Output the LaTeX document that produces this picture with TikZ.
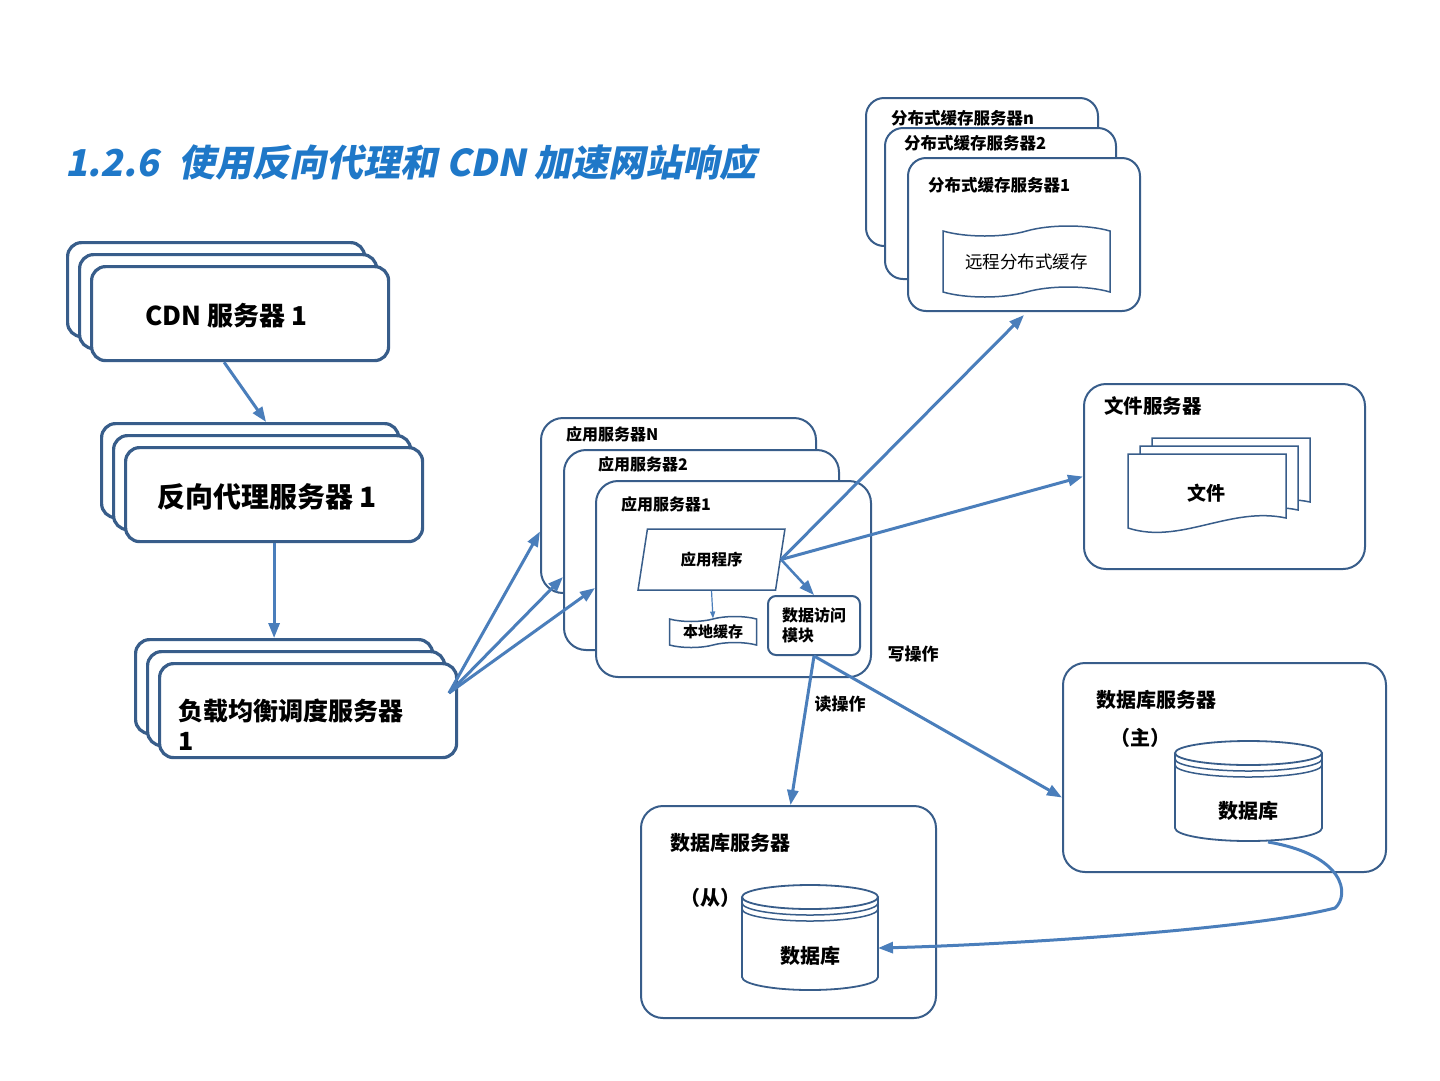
\documentclass[tikz,border=0pt]{standalone}
\usepackage{fontspec}
\setmainfont{Noto Sans CJK SC}
\newfontfamily\titlefont{Noto Sans CJK SC}[FakeSlant=0.2]
\usetikzlibrary{arrows.meta,shapes.geometric,shapes.symbols}
\definecolor{boxblue}{RGB}{56,93,138}
\definecolor{arrowblue}{RGB}{74,126,187}
\definecolor{titleblue}{RGB}{31,120,200}

\begin{document}
\begin{tikzpicture}[x=1pt,y=-1pt,
  stack/.style={draw=boxblue,line width=3.2pt,rounded corners=14pt,fill=white,anchor=north west,minimum width=297pt,minimum height=94pt},
  box/.style={draw=boxblue,line width=2pt,rounded corners=22pt,fill=white,anchor=north west},
  link/.style={draw=arrowblue,line width=3pt,-{Triangle[length=15pt,width=11pt]}},
  big/.style={font=\bfseries\fontsize{#1}{30}\selectfont,anchor=west,inner sep=0pt},
  lbl/.style={font=\bfseries\fontsize{#1}{20}\selectfont,anchor=west,inner sep=0pt}]
\path[fill=white] (0,0) rectangle (1440,1080);
\useasboundingbox (0,0) rectangle (1440,1080);
\node[anchor=west,inner sep=0pt,text=titleblue,font=\titlefont\bfseries\fontsize{37}{40}\selectfont] (title) at (65,162) {1.2.6\hspace{20pt}使用反向代理和 CDN 加速网站响应};

\foreach \k in {2,1,0} {
  \node[stack] (cdn\k) at ({90-12*\k},{265-12*\k}) {};
  \node[stack] (rp\k) at ({124-12*\k},{446-12*\k}) {};
  \node[stack] (lb\k) at ({158-12*\k},{662-12*\k}) {};
}
\node[big=26] (cdntxt) at (145,316) {CDN 服务器 1};
\node[big=28] (rptxt) at (157,497) {反向代理服务器 1};
\node[big=25,align=left] (lbtxt) at (178,725) {负载均衡调度服务器\\1};
\draw[link] ([xshift=-16pt]cdn0.south) -- ([xshift=16pt]rp2.north);
\draw[link] (rp0.south) -- (rp0.south |- lb2.north);

\node[box,minimum width=275pt,minimum height=175pt] (appN) at (540,417) {};
\node[box,minimum width=275pt,minimum height=200pt] (app2) at (563,449) {};
\node[box,minimum width=275pt,minimum height=196pt] (app1) at (595,480) {};
\node[lbl=16] (appNlbl) at (566,434) {应用服务器N};
\node[lbl=16] (app2lbl) at (598,464) {应用服务器2};
\node[lbl=16] (app1lbl) at (621,504) {应用服务器1};
\node[trapezium,trapezium left angle=77,trapezium right angle=103,trapezium stretches=true,draw=boxblue,line width=1.5pt,minimum width=147pt,minimum height=61pt,font=\bfseries\fontsize{15.5}{18}\selectfont] (prog) at (711.5,559.5) {应用程序};
\node[tape,tape bend height=5pt,draw=boxblue,line width=1.5pt,minimum width=87pt,minimum height=30pt,font=\bfseries\fontsize{15}{16}\selectfont] (lcache) at (713,632) {本地缓存};
\node[box,anchor=center,rounded corners=8pt,minimum width=92pt,minimum height=59pt,align=left,font=\bfseries\fontsize{16}{20}\selectfont] (dam) at (814,625.5) {数据访问\\模块};
\draw[arrowblue,line width=1.2pt,-{Triangle[length=7pt,width=5pt]}] (prog.south) -- (lcache.north);

\coordinate (lbout) at (449,693);
\draw[link] (lbout) -- ([yshift=-26pt]appN.west);
\draw[link] (lbout) -- ([yshift=-27pt]app2.west);
\draw[link] (lbout) -- ([yshift=-9pt]app1.west);

\node[box,rounded corners=18pt,minimum width=232pt,minimum height=148pt] (dcn) at (865,97) {};
\node[box,rounded corners=18pt,minimum width=231pt,minimum height=151pt] (dc2) at (884,127) {};
\node[box,rounded corners=18pt,minimum width=232pt,minimum height=153pt] (dc1) at (907,157) {};
\node[lbl=16.5] (dcnlbl) at (891,118) {分布式缓存服务器n};
\node[lbl=16.5] (dc2lbl) at (904,143) {分布式缓存服务器2};
\node[lbl=16.5] (dc1lbl) at (928,185) {分布式缓存服务器1};
\node[tape,tape bend height=10pt,draw=boxblue,line width=1.5pt,minimum width=167pt,minimum height=71pt,font=\fontsize{17.5}{18}\selectfont] (rcache) at (1026.5,261.5) {远程分布式缓存};

\node[box,minimum width=281pt,minimum height=185pt] (fsrv) at (1083,383) {};
\node[lbl=19.5] (fsrvlbl) at (1104,406) {文件服务器};
\foreach \k in {2,1,0}
  \draw[draw=boxblue,line width=1.5pt,fill=white,shift={({12*\k},{-8*\k})}] (1128,454) -- (1286,454) -- (1286,518) .. controls (1230,506) and (1180,545) .. (1128,528) -- cycle;
\node[lbl=19,anchor=center] (doc) at (1206,493) {文件};

\draw[link] (prog.east) -- ([yshift=-3pt]dc1.south);
\draw[link] (prog.east) -- (fsrv.west);
\draw[link,line width=2.5pt] (prog.east) -- (dam.north);

\node[box,minimum width=295pt,minimum height=212pt] (sdbsrv) at (640,805) {};
\node[lbl=20] (sdblbl) at (670,843) {数据库服务器};
\node[lbl=20] (sdbrole) at (680,898) {（从）};
\node[box,minimum width=323pt,minimum height=209pt] (mdbsrv) at (1062,662) {};
\node[lbl=20] (mdblbl) at (1096,700) {数据库服务器};
\node[lbl=20] (mdbrole) at (1110,738) {（主）};
\foreach \l/\r/\t/\b in {742/878/897/977,1175/1322/753/828} {
  \draw[draw=boxblue,line width=1.8pt,fill=white] (\l,\t) -- (\l,\b) arc[start angle=180,end angle=0,x radius={(\r-\l)/2},y radius=13] -- (\r,\t);
  \draw[draw=boxblue,line width=1.8pt,fill=white] ({(\l+\r)/2},\t) ellipse[x radius={(\r-\l)/2},y radius=12];
  \draw[draw=boxblue,line width=1.5pt] (\l,{\t+6}) arc[start angle=180,end angle=0,x radius={(\r-\l)/2},y radius=12];
  \draw[draw=boxblue,line width=1.5pt] (\l,{\t+12}) arc[start angle=180,end angle=0,x radius={(\r-\l)/2},y radius=12];
}
\node[lbl=20,anchor=center] (sdb) at (810,956) {数据库};
\node[lbl=20,anchor=center] (mdb) at (1248,811) {数据库};

\node[lbl=17,anchor=center] (wr) at (913,654) {写操作};
\node[lbl=17,anchor=center] (rd) at (840,704) {读操作};
\draw[link] (dam.south) -- ([xshift=2pt]sdbsrv.north);
\draw[link] (dam.south) -- ([yshift=-30pt]mdbsrv.west);
\coordinate (mdbout) at (1268,842);
\coordinate (sdbin) at (878,948);
\draw[link] (mdbout) .. controls (1345,855) and (1350,895) .. (1335,908) .. controls (1250,930) and (1000,945) .. (sdbin);
\end{tikzpicture}
\end{document}
